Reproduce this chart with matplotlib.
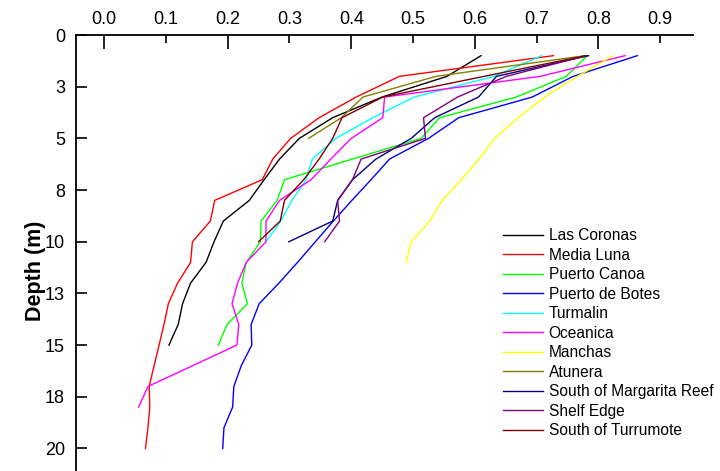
import matplotlib
matplotlib.use('Agg')
import matplotlib.pyplot as plt
from matplotlib.ticker import FixedLocator, FixedFormatter

plt.rcParams['font.family'] = ['Liberation Sans', 'DejaVu Sans']

# ---------------- data (value vs depth) ----------------
las_coronas_depth = [1, 2, 3, 4, 5, 6, 7, 8, 9, 10, 11, 12, 13, 14, 15]
las_coronas = [0.61, 0.555, 0.45, 0.37, 0.316, 0.284, 0.259, 0.235, 0.193, 0.178, 0.165, 0.14, 0.127, 0.12, 0.105]

media_luna_depth = [1, 2, 3, 4, 5, 6, 7, 8, 9, 10, 11, 12, 13, 14, 15, 16, 17, 18, 19, 20]
media_luna = [0.727, 0.478, 0.408, 0.348, 0.302, 0.273, 0.256, 0.179, 0.172, 0.143, 0.14, 0.119, 0.104, 0.097, 0.089, 0.081, 0.073, 0.074, 0.071, 0.067]

puerto_canoa_depth = [1, 2, 3, 4, 5, 6, 7, 8, 9, 10, 11, 12, 13, 14, 15]
puerto_canoa = [0.782, 0.748, 0.667, 0.543, 0.513, 0.402, 0.292, 0.28, 0.254, 0.253, 0.23, 0.223, 0.232, 0.199, 0.185]

puerto_botes_depth = [1, 2, 3, 4, 5, 6, 7, 8, 9, 10, 11, 12, 13, 14, 15, 16, 17, 18, 19, 20]
puerto_botes = [0.863, 0.759, 0.693, 0.574, 0.525, 0.462, 0.432, 0.401, 0.371, 0.342, 0.313, 0.283, 0.251, 0.238, 0.239, 0.222, 0.21, 0.208, 0.194, 0.192]

turmalin_depth = [1, 2, 3, 4, 5, 6, 7, 8, 9, 10]
turmalin = [0.708, 0.631, 0.502, 0.435, 0.375, 0.337, 0.327, 0.304, 0.286, 0.262]

oceanica_depth = [1, 2, 3, 4, 5, 6, 7, 8, 9, 10, 11, 12, 13, 14, 15, 17, 18]
oceanica = [0.843, 0.706, 0.454, 0.451, 0.40, 0.367, 0.335, 0.284, 0.262, 0.262, 0.23, 0.216, 0.207, 0.218, 0.215, 0.071, 0.056]

manchas_depth = [1, 2, 3, 4, 5, 6, 7, 8, 9, 10, 11]
manchas = [0.824, 0.766, 0.713, 0.67, 0.632, 0.607, 0.578, 0.547, 0.527, 0.497, 0.489]

atunera_depth = [1, 2, 3, 4, 5]
atunera = [0.778, 0.537, 0.419, 0.384, 0.331]

margarita_depth = [1, 2, 3, 4, 5, 6, 7, 8, 9, 10]
margarita = [0.784, 0.635, 0.606, 0.535, 0.497, 0.44, 0.402, 0.378, 0.37, 0.299]

shelf_edge_depth = [1, 2, 3, 4, 5, 6, 7, 8, 9, 10]
shelf_edge = [0.78, 0.651, 0.572, 0.517, 0.52, 0.416, 0.402, 0.378, 0.381, 0.357]

turrumote_depth = [1, 2, 3, 4, 5, 6, 7, 8, 9, 10]
turrumote = [0.78, 0.615, 0.451, 0.385, 0.37, 0.348, 0.323, 0.292, 0.285, 0.25]

series_names = ['Las Coronas', 'Media Luna', 'Puerto Canoa', 'Puerto de Botes', 'Turmalin',
                'Oceanica', 'Manchas', 'Atunera', 'South of Margarita Reef', 'Shelf Edge',
                'South of Turrumote']
series_values = [las_coronas, media_luna, puerto_canoa, puerto_botes, turmalin,
                 oceanica, manchas, atunera, margarita, shelf_edge, turrumote]
series_depths = [las_coronas_depth, media_luna_depth, puerto_canoa_depth, puerto_botes_depth,
                 turmalin_depth, oceanica_depth, manchas_depth, atunera_depth, margarita_depth,
                 shelf_edge_depth, turrumote_depth]
series_colors = ['#000000', '#FF0000', '#00FF00', '#0000FF', '#00FFFF',
                 '#FF00FF', '#FFFF00', '#808000', '#000080', '#800080', '#800000']

x_major = [0.0, 0.2, 0.4, 0.6, 0.8]
x_minor = [0.1, 0.3, 0.5, 0.7, 0.9]
y_ticks = [0, 2.5, 5, 7.5, 10, 12.5, 15, 17.5, 20]
y_labels = ['0', '3', '5', '8', '10', '13', '15', '18', '20']

# ---------------- figure ----------------
fig = plt.figure(figsize=(7.2, 4.71), dpi=100)
ax = fig.add_axes([76 / 720, 0, (693 - 76) / 720, (471 - 35) / 471])

for name, vals, deps, col in zip(series_names, series_values, series_depths, series_colors):
    ax.plot(vals, deps, color=col, lw=1.0, label=name)

ax.set_xlim(-0.0454, 0.953)
ax.set_ylim(21.09, 0)

for s in ['right', 'bottom']:
    ax.spines[s].set_visible(False)
for s in ['left', 'top']:
    ax.spines[s].set_linewidth(1.3)

ax.xaxis.set_major_locator(FixedLocator(x_major))
ax.xaxis.set_major_formatter(FixedFormatter(['%.1f' % v for v in x_major]))
ax.xaxis.set_minor_locator(FixedLocator(x_minor))
ax.xaxis.set_minor_formatter(FixedFormatter(['%.1f' % v for v in x_minor]))
ax.tick_params(axis='x', which='major', direction='in', length=10, width=1.2,
               top=True, bottom=False, labeltop=True, labelbottom=False, labelsize=13, pad=5)
ax.tick_params(axis='x', which='minor', direction='in', length=6, width=1.2,
               top=True, bottom=False, labeltop=True, labelbottom=False, labelsize=13, pad=5)

ax.set_yticks(y_ticks)
ax.set_yticklabels(y_labels)
ax.tick_params(axis='y', which='major', direction='in', length=8, width=1.2,
               left=True, right=False, labelsize=13, pad=8)

ax.set_ylabel('Depth (m)', fontsize=15.5, fontweight='bold')
ax.yaxis.set_label_coords(-0.049, 0.459)

ax.legend(loc='upper left', bbox_to_anchor=(503 / 720, 1 - 228 / 471),
          bbox_transform=fig.transFigure, frameon=False, fontsize=11.2,
          handlelength=2.55, handletextpad=0.38, labelspacing=0.29,
          borderpad=0, borderaxespad=0)

fig.savefig('out.png', dpi=100)
